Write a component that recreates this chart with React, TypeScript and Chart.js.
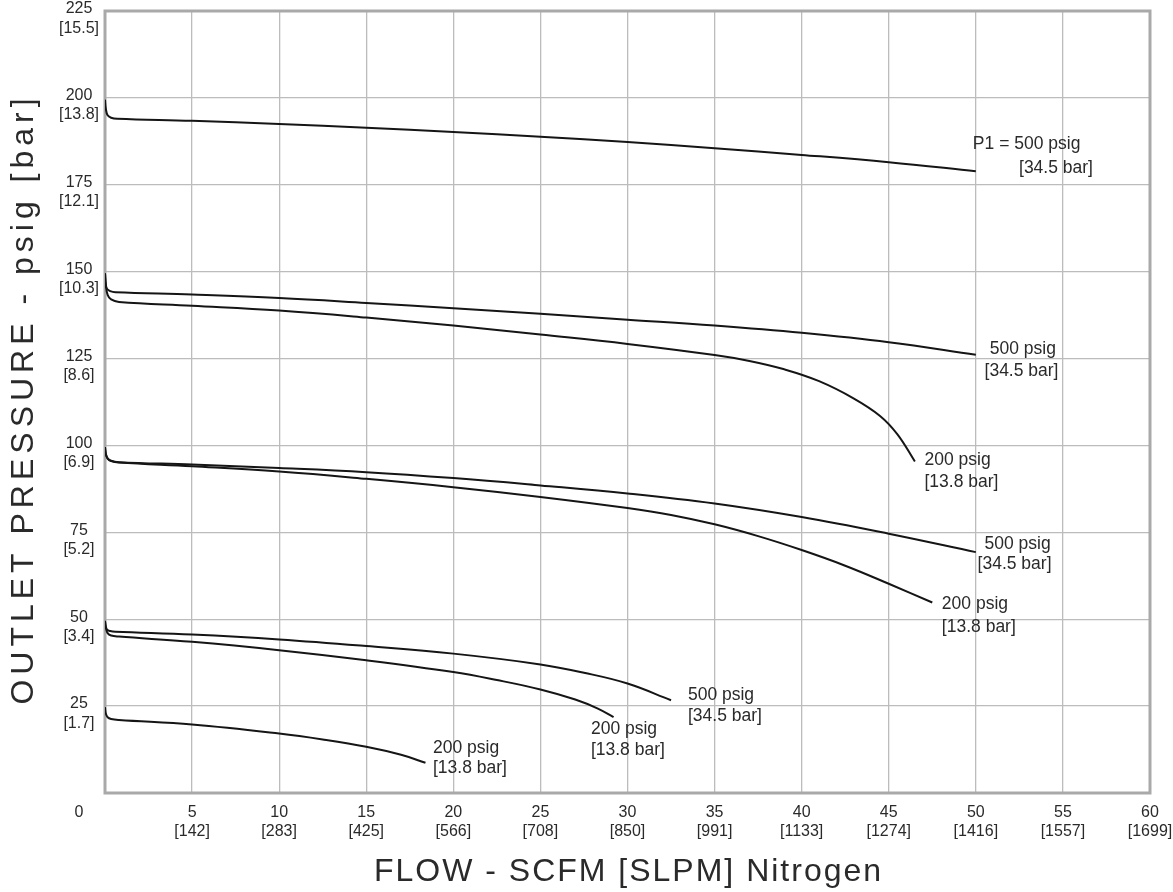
import React, { useEffect, useRef } from "react";
import { Chart, registerables } from "chart.js";

Chart.register(...registerables);

// ---------- data ----------
const xTickValues = [0, 5, 10, 15, 20, 25, 30, 35, 40, 45, 50, 55, 60];
const xTickSlpm = ["", "[142]", "[283]", "[425]", "[566]", "[708]", "[850]", "[991]", "[1133]", "[1274]", "[1416]", "[1557]", "[1699]"];
const yTickValues = [0, 25, 50, 75, 100, 125, 150, 175, 200, 225];
const yTickBar = ["", "[1.7]", "[3.4]", "[5.2]", "[6.9]", "[8.6]", "[10.3]", "[12.1]", "[13.8]", "[15.5]"];

// P1 = 500 psig, set 200
const flow500_200 = [0, 0.05, 0.15, 0.35, 0.7, 5, 10, 15, 20, 25, 30, 35, 40, 45, 50];
const pres500_200 = [199.5, 196.8, 195.0, 194.3, 194.0, 193.4, 192.5, 191.4, 190.2, 188.8, 187.3, 185.5, 183.6, 181.5, 178.9];
// 500 psig, set 150
const flow500_150 = [0, 0.04, 0.12, 0.3, 0.6, 5, 10, 15, 20, 25, 30, 35, 40, 45, 50];
const pres500_150 = [149.5, 146.5, 145.0, 144.4, 144.1, 143.4, 142.4, 141.0, 139.5, 137.9, 136.2, 134.5, 132.4, 129.7, 126.1];
// 200 psig, set 150
const flow200_150 = [0, 0.05, 0.15, 0.35, 0.8, 5, 10, 15, 20, 25, 30, 35, 37, 39, 41, 43, 44.5, 45.5, 46.5];
const pres200_150 = [149.5, 146.0, 143.3, 142.0, 141.3, 140.2, 138.8, 136.8, 134.5, 131.9, 129.2, 126.0, 124.3, 121.9, 118.5, 113.5, 108.5, 103.2, 95.4];
// 500 psig, set 100
const flow500_100 = [0, 0.05, 0.15, 0.35, 0.8, 5, 10, 15, 20, 25, 30, 35, 40, 45, 50];
const pres500_100 = [99.5, 97.5, 96.3, 95.6, 95.2, 94.5, 93.5, 92.3, 90.6, 88.5, 86.2, 83.3, 79.4, 74.6, 69.3];
// 200 psig, set 100
const flow200_100 = [0, 0.05, 0.15, 0.35, 0.8, 5, 10, 15, 20, 25, 30, 32.5, 35, 37.5, 40, 42.5, 45, 47.5];
const pres200_100 = [99.5, 97.5, 96.2, 95.5, 95.1, 94.0, 92.5, 90.4, 88.0, 85.2, 82.0, 80.0, 77.3, 73.9, 69.9, 65.4, 60.2, 54.8];
// 500 psig, set 50
const flow500_50 = [0, 0.04, 0.12, 0.3, 0.6, 5, 10, 15, 20, 25, 27.5, 30, 32.5];
const pres500_50 = [49.5, 48.0, 47.0, 46.6, 46.4, 45.6, 44.2, 42.3, 40.1, 37.0, 34.6, 31.5, 26.7];
// 200 psig, set 50
const flow200_50 = [0, 0.05, 0.15, 0.35, 0.8, 5, 10, 15, 20, 22.5, 25, 27, 28.3, 29.2];
const pres200_50 = [49.5, 47.5, 46.0, 45.3, 45.0, 43.5, 41.1, 38.2, 34.8, 32.5, 29.8, 26.9, 24.3, 21.8];
// 200 psig, set 25
const flow200_25 = [0, 0.05, 0.15, 0.35, 0.8, 5, 10, 12.5, 15, 17, 18.4];
const pres200_25 = [24.7, 22.8, 21.8, 21.3, 21.0, 19.7, 17.1, 15.4, 13.3, 11.0, 8.7];

// curve labels (text, anchored in data units at left / middle of each line)
const labelText = [
  "P1 = 500 psig", "[34.5 bar]",
  "500 psig", "[34.5 bar]",
  "200 psig", "[13.8 bar]",
  "500 psig", "[34.5 bar]",
  "200 psig", "[13.8 bar]",
  "500 psig", "[34.5 bar]",
  "200 psig", "[13.8 bar]",
  "200 psig", "[13.8 bar]",
];
const labelFlow = [49.83, 52.48, 50.8, 50.5, 47.05, 47.05, 50.5, 50.1, 48.05, 48.05, 33.47, 33.47, 27.9, 27.9, 18.83, 18.83];
const labelPres = [186.6, 179.7, 127.7, 121.4, 95.9, 89.5, 71.6, 65.9, 54.4, 47.7, 28.2, 22.1, 18.5, 12.2, 12.9, 7.0];

const X_TITLE = "FLOW - SCFM [SLPM] Nitrogen";
const Y_TITLE = "OUTLET PRESSURE - psig [bar]";

// ---------- styles ----------
const FONT = "'Liberation Sans', Arial, Helvetica, sans-serif";
const TEXT = "#2a2a2a";
const GRID = "#bcbcbc";
const FRAME = "#a9a9a9";
const LINE = "#151515";

function pts(xs: number[], ys: number[]) {
  return xs.map((x, i) => ({ x, y: ys[i] }));
}

const overlay = {
  id: "overlay",
  beforeDatasetsDraw(chart: any) {
    const { ctx, chartArea: a } = chart;
    ctx.save();
    ctx.strokeStyle = FRAME;
    ctx.lineWidth = 3;
    ctx.strokeRect(a.left, a.top, a.right - a.left, a.bottom - a.top);
    ctx.restore();
  },
  afterDraw(chart: any) {
    const { ctx, chartArea: a, scales } = chart;
    const xs = scales.x;
    const ys = scales.y;
    ctx.save();
    ctx.fillStyle = TEXT;
    ctx.font = `17.5px ${FONT}`;
    ctx.textAlign = "left";
    ctx.textBaseline = "middle";
    labelText.forEach((t, i) => {
      ctx.fillText(t, xs.getPixelForValue(labelFlow[i]), ys.getPixelForValue(labelPres[i]));
    });
    // corner zero
    ctx.font = `16px ${FONT}`;
    ctx.textAlign = "center";
    ctx.fillText("0", a.left - 26, a.bottom + 20);
    // x title
    ctx.font = `32px ${FONT}`;
    ctx.textBaseline = "alphabetic";
    (ctx as any).letterSpacing = "2px";
    ctx.fillText(X_TITLE, (a.left + a.right) / 2 + 1, a.bottom + 88);
    // y title
    ctx.translate(33, (a.top + a.bottom) / 2 - 3);
    ctx.rotate(-Math.PI / 2);
    (ctx as any).letterSpacing = "5px";
    ctx.fillText(Y_TITLE, 0, 0);
    (ctx as any).letterSpacing = "0px";
    ctx.restore();
  },
};

export default function App() {
  const ref = useRef<HTMLCanvasElement | null>(null);
  useEffect(() => {
    if (!ref.current) return;
    const series = [
      pts(flow500_200, pres500_200),
      pts(flow500_150, pres500_150),
      pts(flow200_150, pres200_150),
      pts(flow500_100, pres500_100),
      pts(flow200_100, pres200_100),
      pts(flow500_50, pres500_50),
      pts(flow200_50, pres200_50),
      pts(flow200_25, pres200_25),
    ];
    const chart = new Chart(ref.current, {
      type: "line",
      data: {
        datasets: series.map((d) => ({
          data: d,
          borderColor: LINE,
          borderWidth: 2,
          pointRadius: 0,
          fill: false,
          tension: 0.4,
        })),
      },
      options: {
        animation: false,
        responsive: true,
        maintainAspectRatio: false,
        layout: { padding: { left: 0, top: 11, right: 23, bottom: 0 } },
        plugins: { legend: { display: false }, tooltip: { enabled: false } },
        scales: {
          x: {
            type: "linear",
            min: 0,
            max: 60,
            afterBuildTicks: (s: any) => {
              s.ticks = xTickValues.map((v) => ({ value: v }));
            },
            ticks: {
              autoSkip: false,
              maxRotation: 0,
              padding: 10,
              color: TEXT,
              font: { family: FONT, size: 16, lineHeight: 1.2 },
              callback: (v: any) => {
                const i = xTickValues.indexOf(Number(v));
                if (i <= 0) return "";
                return [String(xTickValues[i]), xTickSlpm[i]];
              },
            },
            grid: { color: GRID, lineWidth: 1.3, drawTicks: false },
            border: { display: false },
            afterFit: (s: any) => {
              s.height = 99;
              s.paddingLeft = 0;
              s.paddingRight = 0;
            },
          },
          y: {
            type: "linear",
            min: 0,
            max: 225,
            afterBuildTicks: (s: any) => {
              s.ticks = yTickValues.map((v) => ({ value: v }));
            },
            ticks: {
              autoSkip: false,
              crossAlign: "center",
              padding: 6,
              labelOffset: 7.5,
              color: TEXT,
              font: { family: FONT, size: 16, lineHeight: 1.2 },
              callback: (v: any) => {
                const i = yTickValues.indexOf(Number(v));
                if (i <= 0) return "";
                return [String(yTickValues[i]), yTickBar[i]];
              },
            },
            grid: { color: GRID, lineWidth: 1.3, drawTicks: false },
            border: { display: false },
            afterFit: (s: any) => {
              s.width = 105;
              s.paddingTop = 0;
              s.paddingBottom = 0;
            },
          },
        },
      },
      plugins: [overlay],
    });
    return () => chart.destroy();
  }, []);
  return (
    <div style={{ position: "absolute", left: 0, top: 0, width: 1173, height: 892 }}>
      <canvas ref={ref} />
    </div>
  );
}
